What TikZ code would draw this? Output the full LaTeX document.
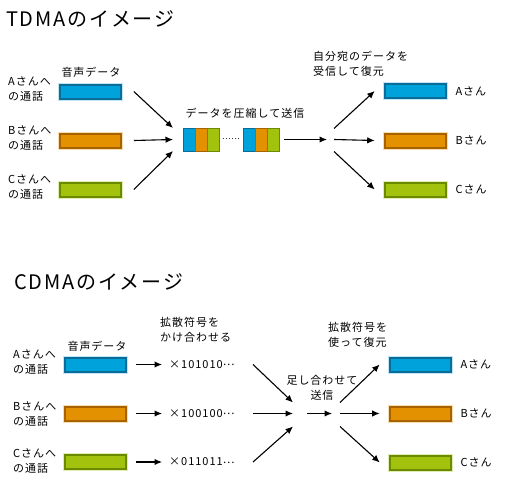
\documentclass[tikz,border=0pt]{standalone}
\usepackage{fontspec}
\newfontfamily\jp[LetterSpace=9]{Noto Sans CJK JP}
\usetikzlibrary{arrows.meta,positioning}
\definecolor{bluemain}{HTML}{00A2DC}
\definecolor{bluedark}{HTML}{0B6C98}
\definecolor{bluelight}{HTML}{BFE6F5}
\definecolor{orangemain}{HTML}{E39100}
\definecolor{orangedark}{HTML}{A86300}
\definecolor{orangelight}{HTML}{F6DDB0}
\definecolor{greenmain}{HTML}{A2C20E}
\definecolor{greendark}{HTML}{6C8A00}
\definecolor{greenlight}{HTML}{E0EDB0}
\newcommand{\codedots}{\raisebox{2.5pt}{⋯}}
\tikzset{
  voice/.style={minimum width=64pt, minimum height=17pt, inner sep=0pt, fill=#1dark, draw=#1light, line width=0.6pt,
    path picture={\fill[#1main] ([shift={(2.5pt,-2.5pt)}]path picture bounding box.north west) rectangle ([shift={(-2.5pt,2.5pt)}]path picture bounding box.south east);}},
  packet/.style={minimum width=12pt, minimum height=23pt, inner sep=0pt, outer sep=0pt, fill=#1main, draw=#1dark, line width=1pt},
  txt/.style={font=\jp\fontsize{11}{15}\selectfont, inner sep=1pt},
  headline/.style={font=\jp\fontsize{20}{24}\selectfont, inner sep=0pt},
  arr/.style={-{Latex[length=7.5pt,width=6.5pt]}, line width=1.1pt},
}
\begin{document}
\begin{tikzpicture}[x=1pt,y=-1pt]
	\useasboundingbox (0,0) rectangle (509,482);
	% TDMA
	\node[headline,anchor=west] (tdmatitle) at (6,19) {TDMAのイメージ};
	\node[txt] (voicelbl) at (91,72) {音声データ};
	\node[voice=blue] (voiceA) at (90.5,91.5) {};
	\node[voice=orange] (voiceB) at (90.5,140.5) {};
	\node[voice=green] (voiceC) at (90.5,189.5) {};
	\node[txt,align=left,anchor=west] (callA) at (7,89) {Aさんへ\\の通話};
	\node[txt,align=left,anchor=west] (callB) at (7,138) {Bさんへ\\の通話};
	\node[txt,align=left,anchor=west] (callC) at (7,187) {Cさんへ\\の通話};
	\node[packet=blue] (pktA1) at (189,139.5) {};
	\node[packet=orange,right=0pt of pktA1] (pktB1) {};
	\node[packet=green,right=0pt of pktB1] (pktC1) {};
	\node[txt,font=\jp\fontsize{8}{8}\selectfont,right=2pt of pktC1] (gap) {⋯⋯};
	\node[packet=blue] (pktA2) at (249,139.5) {};
	\node[packet=orange,right=0pt of pktA2] (pktB2) {};
	\node[packet=green,right=0pt of pktB2] (pktC2) {};
	\node[txt] (muxlbl) at (245,113) {データを圧縮して送信};
	\draw[arr] ([xshift=11pt]voiceA.east) -- ([xshift=-10pt]pktA1.north west);
	\draw[arr] ([xshift=11pt]voiceB.east) -- ([xshift=-10pt]pktA1.west);
	\draw[arr] ([xshift=11pt]voiceC.east) -- ([xshift=-10pt]pktA1.south west);
	\coordinate (split) at (334,139.5);
	\draw[arr] ([xshift=5pt]pktC2.east) -- ([xshift=-7pt]split);
	\node[voice=blue] (rxA) at (415,91) {};
	\node[voice=orange] (rxB) at (415,140.5) {};
	\node[voice=green] (rxC) at (415,189.5) {};
	\draw[arr] ([yshift=11pt]split) -- ([xshift=-8pt]rxA.west);
	\draw[arr] (split) -- ([xshift=-8pt]rxB.west);
	\draw[arr] ([yshift=-12pt]split) -- ([xshift=-8pt]rxC.west);
	\node[txt,right=7pt of rxA] (nameA) {Aさん};
	\node[txt,right=7pt of rxB] (nameB) {Bさん};
	\node[txt,right=7pt of rxC] (nameC) {Cさん};
	\node[txt,align=left,anchor=west] (rxlbl) at (312,64) {自分宛のデータを\\受信して復元};
	% CDMA
	\node[headline,anchor=west] (cdmatitle) at (14,282) {CDMAのイメージ};
	\node[txt] (cvoicelbl) at (97,346) {音声データ};
	\node[voice=blue] (cvoiceA) at (95.5,364.5) {};
	\node[voice=orange] (cvoiceB) at (95.5,413.5) {};
	\node[voice=green] (cvoiceC) at (95.5,462) {};
	\node[txt,align=left,anchor=west] (ccallA) at (12,362) {Aさんへ\\の通話};
	\node[txt,align=left,anchor=west] (ccallB) at (12,414) {Bさんへ\\の通話};
	\node[txt,align=left,anchor=west] (ccallC) at (12,461) {Cさんへ\\の通話};
	\node[txt,align=left,anchor=west] (spreadlbl) at (159,330) {拡散符号を\\かけ合わせる};
	\node[txt,anchor=west] (codeA) at (168,364.5) {×101010\codedots};
	\node[txt,anchor=west] (codeB) at (168,413.5) {×100100\codedots};
	\node[txt,anchor=west] (codeC) at (168,462) {×011011\codedots};
	\draw[arr] ([xshift=8pt]cvoiceA.east) -- ([xshift=-6pt]codeA.west);
	\draw[arr] ([xshift=8pt]cvoiceB.east) -- ([xshift=-6pt]codeB.west);
	\draw[arr] ([xshift=8pt]cvoiceC.east) -- ([xshift=-6pt]codeC.west);
	\coordinate (sum) at (293,413.5);
	\draw[arr] ([xshift=85pt]codeA.west) -- ([yshift=11pt]sum);
	\draw[arr] ([xshift=85pt]codeB.west) -- (sum);
	\draw[arr] ([xshift=85pt]codeC.west) -- ([yshift=-13pt]sum);
	\node[txt,align=center] (sumlbl) at (322,388) {足し合わせて\\送信};
	\coordinate (spread) at (340,413.5);
	\draw[arr] ([xshift=14pt]sum) -- ([xshift=-8pt]spread);
	\node[voice=blue] (crxA) at (420,364.5) {};
	\node[voice=orange] (crxB) at (420,413.5) {};
	\node[voice=green] (crxC) at (420,462.5) {};
	\draw[arr] ([yshift=11pt]spread) -- ([xshift=-8pt]crxA.west);
	\draw[arr] (spread) -- ([xshift=-8pt]crxB.west);
	\draw[arr] ([yshift=-13pt]spread) -- ([xshift=-8pt]crxC.west);
	\node[txt,right=7pt of crxA] (cnameA) {Aさん};
	\node[txt,right=7pt of crxB] (cnameB) {Bさん};
	\node[txt,right=7pt of crxC] (cnameC) {Cさん};
	\node[txt,align=left,anchor=west] (despreadlbl) at (327,335) {拡散符号を\\使って復元};
\end{tikzpicture}
\end{document}
